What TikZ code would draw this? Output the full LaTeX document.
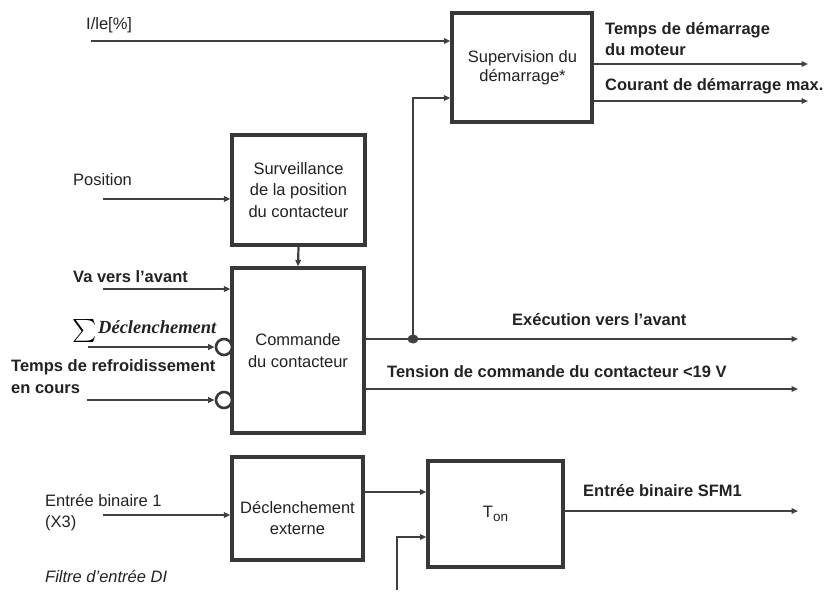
\documentclass[tikz,border=0pt]{standalone}
\usepackage{fontspec}
\usepackage{graphicx}
\setmainfont{Liberation Sans}
\newfontfamily\tnr{Liberation Serif}
\usetikzlibrary{arrows.meta,calc}
\definecolor{linec}{HTML}{404040}
\definecolor{boxc}{HTML}{383838}
\definecolor{txtc}{HTML}{222222}
\tikzset{
  blk/.style={draw=boxc, line width=3.2pt, fill=white, inner sep=0pt, align=center, text=txtc,
    font=\fontsize{16.5}{21.5}\selectfont},
  conn/.style={draw=linec, line width=2.2pt},
  arr/.style={conn, -{Triangle[length=6.5pt,width=5.5pt]}},
  lab/.style={inner sep=0pt, text=txtc, font=\fontsize{16.5}{21.5}\selectfont, align=left},
  blab/.style={lab, font=\fontsize{16.5}{21.5}\selectfont\bfseries},
  bubble/.style={circle, draw=boxc, line width=2.6pt, fill=white, minimum size=16pt, inner sep=0pt},
}
\begin{document}
\begin{tikzpicture}[x=1pt,y=-1pt]
\useasboundingbox (0,0) rectangle (834,596);
% blocks
\node[blk, minimum width=140pt, minimum height=109pt] (sup) at (522,67.5) {};
\node[lab, align=center, font=\fontsize{16.5}{19.5}\selectfont] (suptxt) at (522.5,67.5) {Supervision du\\démarrage*};
\node[blk, minimum width=133pt, minimum height=110pt] (surv) at (298.5,190) {Surveillance\\de la position\\du contacteur};
\node[blk, minimum width=132pt, minimum height=165pt] (cmd) at (298,350.5) {Commande\\du contacteur};
\node[blk, minimum width=131pt, minimum height=103pt] (dext) at (297.5,508.5) {};
\node[lab, align=center] (dexttxt) at (297.5,518) {Déclenchement\\externe};
\node[blk, minimum width=135pt, minimum height=106pt] (ton) at (495.5,514) {T\raisebox{-4pt}{\fontsize{13.5}{14}\selectfont on}};
% bubbles
\node[bubble] (b1) at (224,347) {};
\node[bubble] (b2) at (224,400) {};
% labels
\node[lab, anchor=west] (lile) at (86,25) {I/le[\%]};
\node[lab, anchor=west] (lpos) at (73,180) {Position};
\node[blab, anchor=west] (lva) at (73,277) {Va vers l’avant};
\node[inner sep=0pt, anchor=west] (lsig) at (72,331) {\scalebox{2.3}{$\sum$}};
\node[inner sep=0pt, anchor=west, text=txtc] (ldecl) at (98,327) {\tnr\fontsize{18.5}{22}\selectfont\bfseries\itshape Déclenchement};
\node[blab, anchor=west] (lref) at (11,376.5) {Temps de refroidissement\\en cours};
\node[lab, anchor=west] (leb) at (45,512.5) {Entrée binaire 1\\(X3)};
\node[lab, anchor=west] (lfil) at (45,577) {\itshape Filtre d’entrée DI};
\node[blab, anchor=west] (ltdm) at (605,39) {Temps de démarrage\\du moteur};
\node[blab, anchor=west] (lcdm) at (605,86) {Courant de démarrage max.};
\node[blab, anchor=west] (lexe) at (512,320) {Exécution vers l’avant};
\node[blab, anchor=west] (lten) at (387,372) {Tension de commande du contacteur <19 V};
\node[blab, anchor=west] (lsfm) at (583,491) {Entrée binaire SFM1};
% coordinates
\coordinate (ileS) at (91,41);
\coordinate (posS) at (103,199);
\coordinate (vaS) at (103,289);
\coordinate (declS) at (88,347);
\coordinate (refS) at (87,400);
\coordinate (ebS) at (103,515);
\coordinate (o1E) at (808,64);
\coordinate (o2E) at (808,101);
\coordinate (exeE) at (798,339);
\coordinate (tenE) at (798,389);
\coordinate (sfmE) at (798,511);
\coordinate (supIn2) at (452,98);
\coordinate (dextO) at (363,492);
\coordinate (tonS) at (397,590);
\coordinate (tonIn2) at (428,537);
% connectors
\draw[arr] (ileS) -- (ileS -| sup.west);
\draw[arr] (o1E -| sup.east) -- (o1E);
\draw[arr] (o2E -| sup.east) -- (o2E);
\draw[arr] (posS) -- (posS -| surv.west);
\draw[arr] (surv.south) -- (cmd.north);
\draw[arr] (vaS) -- (vaS -| cmd.west);
\draw[arr] (declS) -- (b1.west);
\draw[arr] (refS) -- (b2.west);
\draw[arr] (exeE -| cmd.east) -- (exeE);
\coordinate (dot) at (413,339);
\draw[arr] (dot) |- (supIn2 -| sup.west);
\fill[linec] (dot) ellipse (5.5pt and 4.5pt);
\draw[arr] (tenE -| cmd.east) -- (tenE);
\draw[arr] (ebS) -- (ebS -| dext.west);
\draw[arr] (dextO -| dext.east) -- (dextO -| ton.west);
\draw[arr] (tonS) |- (tonIn2 -| ton.west);
\draw[arr] (sfmE -| ton.east) -- (sfmE);
\end{tikzpicture}
\end{document}
